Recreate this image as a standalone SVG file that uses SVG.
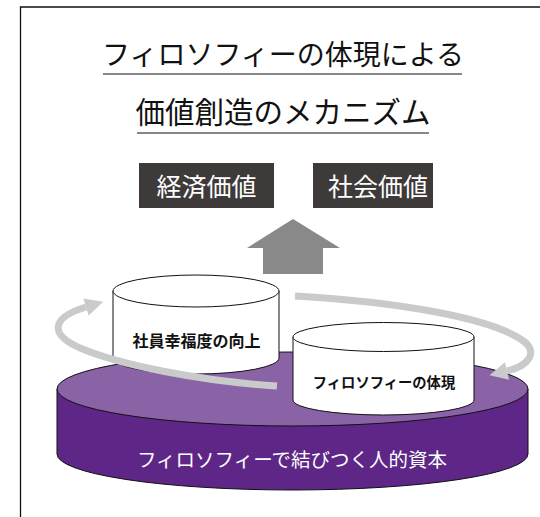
<svg xmlns="http://www.w3.org/2000/svg" width="540" height="517" viewBox="0 0 540 517">
  <defs>
    <style>
      .jp { font-family: "Noto Sans CJK JP", "Noto Sans", sans-serif; }
      .title { font-size: 28px; fill: #111; text-anchor: middle; }
      .rule { stroke: #111; stroke-width: 1.2; }
      .vbox { fill: #3e3a39; }
      .vlabel { font-size: 25px; fill: #fff; text-anchor: middle; }
      .cyl { fill: #fff; stroke: #111; stroke-width: 1; }
      .cyllabel { fill: #111; text-anchor: middle; font-weight: 600; }
      .loop { fill: none; stroke: #c9caca; stroke-width: 7; }
    </style>
    <marker id="head" markerUnits="userSpaceOnUse" markerWidth="20" markerHeight="20" refX="0" refY="0" viewBox="0 -10 20 20" orient="auto" overflow="visible">
      <path d="M0,-9 L18,0 L0,9 Z" fill="#c9caca"/>
    </marker>
  </defs>

  <rect width="540" height="517" fill="#fff"/>

  <!-- frame -->
  <path d="M20.5,517 L20.5,7 L540,7" fill="none" stroke="#111" stroke-width="1.3"/>

  <!-- heading -->
  <g id="heading" class="jp">
    <text class="title jp" x="283" y="65">フィロソフィーの体現による</text>
    <line class="rule" x1="103" y1="74" x2="462" y2="74"/>
    <text class="title jp" x="283" y="123" style="font-size:29.5px">価値創造のメカニズム</text>
    <line class="rule" x1="137" y1="133" x2="429" y2="133"/>
  </g>

  <!-- outcome boxes -->
  <g id="economic-value">
    <rect class="vbox" x="139" y="163" width="135" height="45"/>
    <text class="vlabel jp" x="206.5" y="196">経済価値</text>
  </g>
  <g id="social-value">
    <rect class="vbox" x="313" y="163" width="120" height="45"/>
    <text class="vlabel jp" x="378" y="196">社会価値</text>
  </g>

  <!-- upward arrow -->
  <g id="up-arrow">
    <path d="M293,219 L340,248 L323,248 L323,274 L263,274 L263,248 L247,248 Z" fill="#898989"/>
  </g>

  <!-- base disc: human capital -->
  <g id="human-capital">
    <path d="M57,389 L57,454 A235.5 36 0 0 0 528,454 L528,389 Z" fill="#5e2787" stroke="#111" stroke-width="1"/>
    <ellipse cx="292.5" cy="389" rx="235.5" ry="37" fill="#8a62a6" stroke="#111" stroke-width="1"/>
    <text class="jp" x="292" y="467" font-size="19.5" fill="#fff" text-anchor="middle">フィロソフィーで結びつく人的資本</text>
  </g>

  <!-- employee wellbeing drum -->
  <g id="wellbeing">
    <path class="cyl" d="M113,291 L113,358 A83 16 0 0 0 279,358 L279,291 Z"/>
    <ellipse class="cyl" cx="196" cy="291" rx="83" ry="16"/>
    <text class="cyllabel jp" x="196.5" y="347" font-size="16">社員幸福度の向上</text>
  </g>

  <!-- philosophy embodiment drum -->
  <g id="embodiment">
    <path class="cyl" d="M293,337 L293,400 A90.5 15 0 0 0 474,400 L474,337 Z"/>
    <ellipse class="cyl" cx="383.5" cy="337" rx="90.5" ry="14.5"/>
    <text class="cyllabel jp" x="384" y="388" font-size="14.3">フィロソフィーの体現</text>
  </g>

  <!-- circulating loop -->
  <g id="connectors">
    <path class="loop" marker-end="url(#head)" d="M295,296 C400,302 490,318 522,340 C540,352 528,366 507,371"/>
    <path class="loop" marker-end="url(#head)" d="M277,386 C200,381 120,365 80,348 C50,335 50,318 86,307"/>
  </g>
</svg>
